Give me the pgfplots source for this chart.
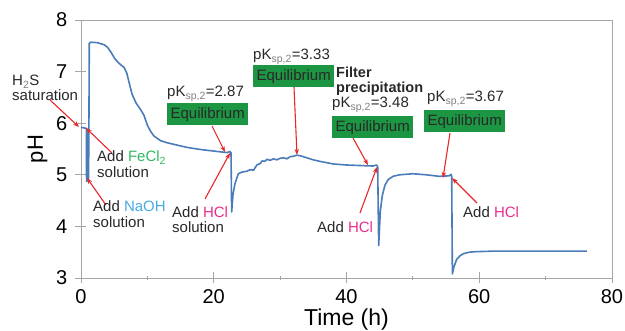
\documentclass[border=0pt]{standalone}
\usepackage{pgfplots}
\pgfplotsset{compat=1.18}
\usepackage{fontspec}
\setmainfont{Liberation Sans}
\usetikzlibrary{arrows.meta}
\definecolor{curve}{RGB}{74,124,185}
\definecolor{axgray}{RGB}{165,165,165}
\definecolor{arr}{RGB}{232,40,40}
\definecolor{eqgreen}{RGB}{28,150,66}
\definecolor{fecl}{RGB}{50,185,95}
\definecolor{naoh}{RGB}{70,170,230}
\definecolor{hcl}{RGB}{235,45,140}
\definecolor{txt}{RGB}{40,40,40}
\newcommand{\pk}[1]{pK\textsubscript{\color{gray}sp,2}=#1}
\begin{document}
\begin{tikzpicture}
\begin{axis}[
  scale only axis, width=531pt, height=258pt,
  xmin=0, xmax=80, ymin=3, ymax=8,
  xtick={0,20,40,60,80}, minor xtick={10,30,50,70},
  ytick={3,4,5,6,7,8},
  tick pos=left, tick align=center,
  major tick length=11pt, minor tick length=4pt,
  axis line style={axgray, line width=0.9pt},
  every tick/.style={axgray, line width=0.9pt},
  /pgf/number format/assume math mode=true,
  tick label style={font=\fontsize{20}{24}\selectfont, inner sep=0pt},
  xticklabel style={anchor=north, yshift=-6pt},
  yticklabel style={anchor=east, xshift=-8pt},
  xlabel={Time (h)}, ylabel={pH},
  every axis x label/.style={at={([yshift=-48pt]axis description cs:0.5,0)}, anchor=base, inner sep=0pt, font=\fontsize{23}{26}\selectfont},
  every axis y label/.style={at={([xshift=-38pt]axis description cs:0,0.5)}, anchor=base, rotate=90, inner sep=0pt, font=\fontsize{22}{26}\selectfont},
]
\addplot[curve, line width=1.6pt, line join=round] coordinates {
(0,5.92) (0.8,5.90) (0.84,4.87) (0.88,5.88) (0.93,4.90) (0.98,5.88) (1.03,4.88) (1.08,5.86) (1.13,4.92) (1.18,5.6) (1.25,7.55)
(1.5,7.57) (2.5,7.56) (3.5,7.52) (4.0,7.47) (4.5,7.38) (5.0,7.27) (5.5,7.19) (6.0,7.13) (6.5,7.08) (6.9,6.97)
(7.3,6.76) (7.7,6.56) (8.3,6.39) (9.0,6.26) (9.5,6.15) (10.0,5.96) (10.5,5.84) (11.0,5.75) (12.0,5.66) (13.0,5.62)
(14.0,5.59) (16,5.53) (18,5.49) (20,5.46) (22,5.43) (22.4,5.45) (22.6,5.43) (22.7,4.28) (22.9,4.62) (23.2,4.83)
(23.7,5.02) (24.2,5.05) (25,5.07) (25.5,5.10) (26,5.09) (26.5,5.19) (27,5.22) (27.3,5.27) (27.7,5.26) (28,5.30)
(28.5,5.28) (29,5.31) (29.5,5.29) (30,5.32) (30.5,5.33) (31,5.31) (31.5,5.35) (32,5.36) (32.5,5.38) (33,5.37)
(34,5.33) (35,5.29) (36,5.26) (38,5.21) (40,5.19) (42,5.18) (44,5.17) (44.5,5.19) (44.7,5.16) (44.85,3.63)
(45.1,4.3) (45.4,4.6) (45.8,4.8) (46.3,4.91) (47,4.97) (48,5.00) (50,5.02) (52,5.00) (54,4.97) (55.5,4.98)
(55.75,5.01) (55.85,4.97) (55.95,3.08) (56.2,3.22) (56.6,3.36) (57.1,3.43) (57.6,3.47) (58.5,3.50) (59.5,3.51)
(62,3.52) (66,3.52) (70,3.52) (76.2,3.52)
};
\end{axis}
\begin{scope}[shift={(-81pt,278pt)}, x=1pt, y=-1pt]
\tikzset{lab/.style={anchor=base west, inner sep=0pt, text=txt, font=\fontsize{15}{16}\selectfont},
         eq/.style={anchor=north west, inner sep=0pt, fill=eqgreen, text=txt, minimum width=81pt, minimum height=22pt, font=\fontsize{15}{16}\selectfont},
         ar/.style={arr, line width=1.1pt, -{Stealth[length=6pt,width=4.5pt]}}}
% arrows
\draw[ar] (50,100) -- (79,127);
\draw[ar] (112,153) -- (86,128);
\draw[ar] (106,205) -- (87,178);
\draw[ar] (212,126) -- (225,152);
\draw[ar] (205,199) -- (230,153);
\draw[ar] (294,87) -- (297,155);
\draw[ar] (353,138) -- (368,165);
\draw[ar] (360,213) -- (377,167);
\draw[ar] (450,133) -- (443,178);
\draw[ar] (477,203) -- (452,178);
% texts
\node[lab] at (12,86) {H\textsubscript{\color{gray}2}S};
\node[lab] at (12,101) {saturation};
\node[lab] at (97,162) {Add {\color{fecl}FeCl\textsubscript{2}}};
\node[lab] at (97,178) {solution};
\node[lab] at (93,212) {Add {\color{naoh}NaOH}};
\node[lab] at (93,228) {solution};
\node[lab] at (167,97) {\pk{2.87}};
\node[eq] at (167,103) {Equilibrium};
\node[lab] at (172,218) {Add {\color{hcl}HCl}};
\node[lab] at (172,233) {solution};
\node[lab] at (253,60) {\pk{3.33}};
\node[eq] at (253,65) {Equilibrium};
\node[lab, font=\fontsize{14.5}{16}\selectfont\bfseries] at (336,78) {Filter};
\node[lab, font=\fontsize{14.5}{16}\selectfont\bfseries] at (336,93) {precipitation};
\node[lab] at (332,108) {\pk{3.48}};
\node[eq] at (332,116) {Equilibrium};
\node[lab] at (317,233) {Add {\color{hcl}HCl}};
\node[lab] at (427,102) {\pk{3.67}};
\node[eq] at (424,110) {Equilibrium};
\node[lab] at (463,218) {Add {\color{hcl}HCl}};
\pgfresetboundingbox
\path[use as bounding box] (0,0) rectangle (625,331);
\end{scope}
\end{tikzpicture}
\end{document}
